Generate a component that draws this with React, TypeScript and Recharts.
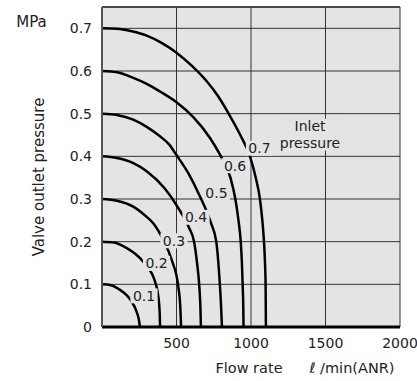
import { LineChart, Line, XAxis, YAxis, CartesianGrid, ReferenceLine, ReferenceDot } from "recharts";

// flow rate (l/min ANR) vs valve outlet pressure (MPa), one curve per inlet pressure
const CURVE_01 = [
	{ x: 0, v: 0.1 }, { x: 60, v: 0.098 }, { x: 121, v: 0.087 }, { x: 170, v: 0.073 },
	{ x: 200, v: 0.059 }, { x: 230, v: 0.038 }, { x: 247, v: 0.018 }, { x: 255, v: 0 },
];
const CURVE_02 = [
	{ x: 0, v: 0.2 }, { x: 80, v: 0.198 }, { x: 166, v: 0.185 }, { x: 225, v: 0.171 },
	{ x: 277, v: 0.153 }, { x: 315, v: 0.136 }, { x: 344, v: 0.118 }, { x: 378, v: 0.071 },
	{ x: 387, v: 0.035 }, { x: 390, v: 0 },
];
const CURVE_03 = [
	{ x: 0, v: 0.3 }, { x: 100, v: 0.296 }, { x: 210, v: 0.282 }, { x: 290, v: 0.261 },
	{ x: 344, v: 0.243 }, { x: 411, v: 0.204 }, { x: 468, v: 0.157 }, { x: 512, v: 0.095 },
	{ x: 525, v: 0.05 }, { x: 531, v: 0 },
];
const CURVE_04 = [
	{ x: 0, v: 0.4 }, { x: 100, v: 0.396 }, { x: 210, v: 0.384 }, { x: 300, v: 0.365 },
	{ x: 420, v: 0.325 }, { x: 510, v: 0.28 }, { x: 585, v: 0.232 }, { x: 618, v: 0.2 },
	{ x: 638, v: 0.15 }, { x: 652, v: 0.1 }, { x: 660, v: 0.05 }, { x: 664, v: 0 },
];
const CURVE_05 = [
	{ x: 0, v: 0.5 }, { x: 100, v: 0.497 }, { x: 210, v: 0.486 }, { x: 300, v: 0.469 },
	{ x: 389, v: 0.447 }, { x: 450, v: 0.428 }, { x: 500, v: 0.403 }, { x: 580, v: 0.36 },
	{ x: 652, v: 0.31 }, { x: 730, v: 0.245 }, { x: 767, v: 0.2 }, { x: 781, v: 0.15 },
	{ x: 791, v: 0.1 }, { x: 799, v: 0.05 }, { x: 805, v: 0 },
];
const CURVE_06 = [
	{ x: 0, v: 0.6 }, { x: 100, v: 0.597 }, { x: 210, v: 0.584 }, { x: 300, v: 0.57 },
	{ x: 389, v: 0.552 }, { x: 500, v: 0.527 }, { x: 613, v: 0.492 }, { x: 725, v: 0.443 },
	{ x: 790, v: 0.405 }, { x: 862, v: 0.35 }, { x: 895, v: 0.3 }, { x: 916, v: 0.25 },
	{ x: 931, v: 0.2 }, { x: 939, v: 0.15 }, { x: 944, v: 0.1 }, { x: 948, v: 0.05 },
	{ x: 950, v: 0 },
];
const CURVE_07 = [
	{ x: 0, v: 0.7 }, { x: 100, v: 0.699 }, { x: 200, v: 0.693 }, { x: 300, v: 0.683 },
	{ x: 400, v: 0.666 }, { x: 500, v: 0.643 }, { x: 600, v: 0.613 }, { x: 700, v: 0.577 },
	{ x: 775, v: 0.543 }, { x: 850, v: 0.5 }, { x: 928, v: 0.45 }, { x: 993, v: 0.4 },
	{ x: 1032, v: 0.35 }, { x: 1060, v: 0.3 }, { x: 1076, v: 0.25 }, { x: 1087, v: 0.2 },
	{ x: 1094, v: 0.15 }, { x: 1098, v: 0.1 }, { x: 1100, v: 0 },
];
const CURVES = [CURVE_01, CURVE_02, CURVE_03, CURVE_04, CURVE_05, CURVE_06, CURVE_07];

const X_TICKS = [500, 1000, 1500, 2000];
const Y_TICKS = [0, 0.1, 0.2, 0.3, 0.4, 0.5, 0.6, 0.7];

// curve tags (inlet pressure) and where they sit
const TAG_TEXT = ["0.1", "0.2", "0.3", "0.4", "0.5", "0.6", "0.7"];
const TAG_X = [282, 366, 483, 631, 768, 893, 1057];
const TAG_Y = [0.073, 0.149, 0.202, 0.257, 0.315, 0.378, 0.419];

const FONT = "'DejaVu Sans', sans-serif";
const PLOT_BG = "#e4e4e4";
const INK = "#222";

function Tag(props: any) {
	const { cx, cy, lines } = props;
	const fs = 14;
	const lh = 17;
	const w = Math.max(...lines.map((s: string) => s.length)) * fs * 0.6;
	const h = lines.length * lh;
	return (
		<g>
			<rect x={cx - w / 2 - 1} y={cy - h / 2 + 1} width={w + 2} height={h - 2} fill={PLOT_BG} />
			{lines.map((s: string, i: number) => (
				<text
					key={i}
					x={cx}
					y={cy - h / 2 + lh * i + lh / 2 + 5}
					textAnchor="middle"
					fontSize={fs}
					fontFamily={FONT}
					fill={INK}
				>
					{s}
				</text>
			))}
		</g>
	);
}

export default function App() {
	return (
		<div style={{ position: "absolute", left: 0, top: 0, width: 417, height: 381, background: "#fff" }}>
			<LineChart width={417} height={381} margin={{ top: 7, right: 17, bottom: 0, left: 0 }}>
				<CartesianGrid fill={PLOT_BG} stroke="#333" strokeWidth={1} />
				<XAxis
					type="number"
					dataKey="x"
					domain={[0, 2000]}
					ticks={X_TICKS}
					height={54}
					tickSize={0}
					tickMargin={11}
					axisLine={{ stroke: "#000", strokeWidth: 3 }}
					tick={{ fill: INK, fontSize: 14, fontFamily: FONT }}
					allowDataOverflow
				/>
				<YAxis
					type="number"
					domain={[0, 0.75]}
					ticks={Y_TICKS}
					width={102}
					tickSize={0}
					tickMargin={10}
					axisLine={{ stroke: "#555", strokeWidth: 2 }}
					tick={{ fill: INK, fontSize: 14, fontFamily: FONT }}
					tickFormatter={(v: number) => (v === 0 ? "0" : v.toFixed(1))}
					allowDataOverflow
				/>
				<ReferenceLine y={0.75} stroke="#333" strokeWidth={1.5} />
				{CURVES.map((d, i) => (
					<Line
						key={i}
						data={d}
						dataKey="v"
						type="monotone"
						stroke="#000"
						strokeWidth={2.5}
						dot={false}
						isAnimationActive={false}
					/>
				))}
				{TAG_TEXT.map((t, i) => (
					<ReferenceDot
						key={t}
						x={TAG_X[i]}
						y={TAG_Y[i]}
						shape={(p: any) => <Tag {...p} lines={[t]} />}
					/>
				))}
				<ReferenceDot x={1396} y={0.451} shape={(p: any) => <Tag {...p} lines={["Inlet", "pressure"]} />} />
			</LineChart>
			<svg width={417} height={381} style={{ position: "absolute", left: 0, top: 0, pointerEvents: "none" }}>
				<text x={31.5} y={26.5} textAnchor="middle" fontSize={15} fontFamily={FONT} fill={INK}>
					MPa
				</text>
				<text
					transform="translate(44,177) rotate(-90)"
					textAnchor="middle"
					fontSize={15}
					fontFamily={FONT}
					fill={INK}
				>
					Valve outlet pressure
				</text>
				<text x={249} y={373} textAnchor="middle" fontSize={14.5} fontFamily={FONT} fill={INK}>
					Flow rate
				</text>
				<text x={352} y={373} textAnchor="middle" fontSize={14.5} fontFamily={FONT} fill={INK}>
					<tspan fontStyle="italic">ℓ</tspan> /min(ANR)
				</text>
			</svg>
		</div>
	);
}
